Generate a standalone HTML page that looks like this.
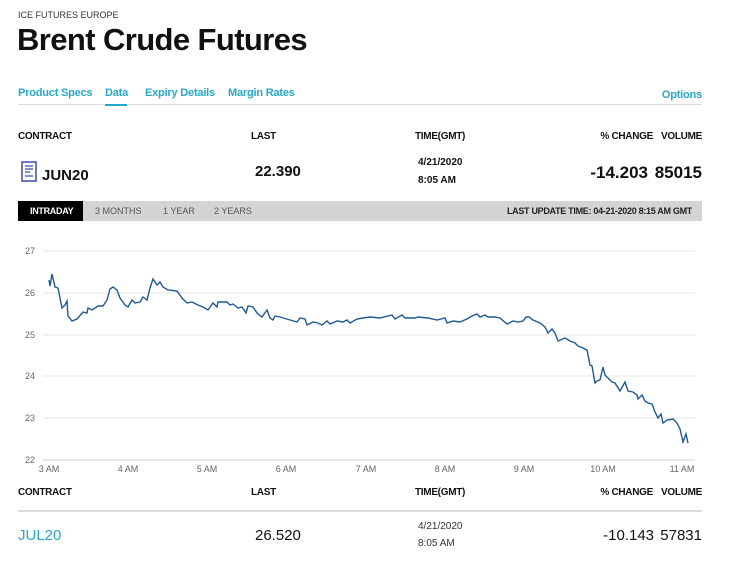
<!DOCTYPE html><html><head><style>
body{margin:0;width:741px;height:573px;background:#fff;font-family:"Liberation Sans",sans-serif;position:relative;overflow:hidden;color:#111}
div{position:absolute;white-space:nowrap}
.h{font-size:10px;font-weight:bold;letter-spacing:-0.3px}
.t{font-size:11px;font-weight:bold;color:#25a9c7;letter-spacing:-0.2px}
.g{font-size:9px;color:#555}
</style></head><body>
<div style="left:18px;top:10px;font-size:9px;color:#333">ICE FUTURES EUROPE</div>
<div style="left:17px;top:22px;font-size:31px;font-weight:bold;letter-spacing:-0.6px">Brent Crude Futures</div>
<div class="t" style="left:18px;top:87px">Product Specs</div>
<div class="t" style="left:105px;top:87px">Data</div>
<div class="t" style="left:145px;top:87px">Expiry Details</div>
<div class="t" style="left:228px;top:87px">Margin Rates</div>
<div class="t" style="right:39px;top:89px">Options</div>
<div style="left:18px;top:104px;width:684px;height:1px;background:#ddd"></div>
<div style="left:105px;top:104px;width:22px;height:2px;background:#25a9c7"></div>
<div class="h" style="left:18px;top:131px">CONTRACT</div>
<div class="h" style="left:251px;top:131px">LAST</div>
<div class="h" style="left:415px;top:131px">TIME(GMT)</div>
<div class="h" style="right:88px;top:131px">% CHANGE</div>
<div class="h" style="right:39px;top:131px">VOLUME</div>
<svg style="position:absolute;left:21px;top:161px" width="16" height="21"><rect x="1" y="1" width="14" height="19" fill="none" stroke="#3a4aa8" stroke-width="1.5"/><path d="M4 5h8M4 8h8M4 11h5M4 15h8" stroke="#3a4aa8" stroke-width="1.2"/></svg>
<div style="left:42px;top:167px;font-size:15px;font-weight:bold">JUN20</div>
<div style="left:255px;top:163px;font-size:15px;font-weight:bold">22.390</div>
<div style="left:418px;top:157px;font-size:10px;font-weight:bold">4/21/2020</div>
<div style="left:418px;top:175px;font-size:10px;font-weight:bold">8:05 AM</div>
<div style="right:93px;top:163px;font-size:17px;font-weight:bold">-14.203</div>
<div style="right:39px;top:163px;font-size:17px;font-weight:bold">85015</div>
<div style="left:18px;top:201px;width:684px;height:20px;background:#d4d4d4"></div>
<div style="left:18px;top:201px;width:65px;height:20px;background:#000"></div>
<div style="left:30px;top:206px;font-size:9px;color:#fff;font-weight:bold;letter-spacing:-0.3px">INTRADAY</div>
<div class="g" style="left:95px;top:206px">3 MONTHS</div>
<div class="g" style="left:163px;top:206px">1 YEAR</div>
<div class="g" style="left:214px;top:206px">2 YEARS</div>
<div style="right:49px;top:206px;font-size:9px;font-weight:bold;color:#222;letter-spacing:-0.3px">LAST UPDATE TIME: 04-21-2020 8:15 AM GMT</div>
<svg style="position:absolute;left:0;top:0" width="741" height="480">
<g stroke="#e6e6e6" stroke-width="1"><line x1="43" x2="695" y1="251" y2="251"/><line x1="43" x2="695" y1="293" y2="293"/><line x1="43" x2="695" y1="335" y2="335"/><line x1="43" x2="695" y1="376" y2="376"/><line x1="43" x2="695" y1="418" y2="418"/></g>
<line x1="43" x2="695" y1="460" y2="460" stroke="#ccc"/>
<g font-size="9" fill="#666" font-family="Liberation Sans"><text x="25" y="254">27</text><text x="25" y="296">26</text><text x="25" y="338">25</text><text x="25" y="379">24</text><text x="25" y="421">23</text><text x="25" y="463">22</text>
<g text-anchor="middle"><text x="49" y="472">3 AM</text><text x="128" y="472">4 AM</text><text x="207" y="472">5 AM</text><text x="286" y="472">6 AM</text><text x="366" y="472">7 AM</text><text x="445" y="472">8 AM</text><text x="524" y="472">9 AM</text><text x="603" y="472">10 AM</text><text x="682" y="472">11 AM</text></g></g>
<polyline fill="none" stroke="#1f5a93" stroke-width="1.4" points="49,280 50,286 52,274 55,287 58,288 62,308 65,305 67,301 68,316 72,321 77,319 83,312 87,313 88,308 92,310 98,306 103,306 107,300 110,289 113,287 117,290 120,298 125,305 128,307 132,300 135,303 140,302 143,297 147,300 150,288 153,279 157,285 160,282 163,287 168,290 177,291 182,298 187,303 192,302 198,305 203,307 208,310 213,303 217,307 218,302 227,302 230,305 233,304 238,308 242,307 246,313 248,306 253,307 257,313 262,317 267,310 270,318 273,320 275,316 280,317 290,320 297,322 300,318 305,319 307,325 313,322 318,323 322,325 327,321 330,324 337,321 343,322 347,320 350,323 357,319 363,318 370,317 380,318 392,315 395,319 402,315 405,318 415,318 418,317 428,318 437,320 445,318 447,323 453,321 460,322 467,319 472,316 477,314 480,317 485,315 488,317 495,317 500,318 507,324 513,321 518,322 523,321 526,317 529,317 533,320 540,323 545,327 548,333 552,329 555,333 558,341 565,338 570,341 575,343 578,346 583,348 587,350 590,365 592,366 595,383 597,381 600,380 603,367 605,375 608,378 612,382 615,383 620,391 625,382 628,391 633,392 637,395 638,399 642,395 645,401 648,403 652,404 655,412 658,418 661,414 663,423 667,420 673,419 677,423 680,429 683,442 686,434 688,443"/>
</svg>
<div class="h" style="left:18px;top:487px">CONTRACT</div>
<div class="h" style="left:251px;top:487px">LAST</div>
<div class="h" style="left:415px;top:487px">TIME(GMT)</div>
<div class="h" style="right:88px;top:487px">% CHANGE</div>
<div class="h" style="right:39px;top:487px">VOLUME</div>
<div style="left:18px;top:510px;width:684px;height:2px;background:#ddd"></div>
<div style="left:18px;top:527px;font-size:15px;color:#25a9c7">JUL20</div>
<div style="left:255px;top:527px;font-size:15px">26.520</div>
<div style="left:418px;top:521px;font-size:10px;color:#333">4/21/2020</div>
<div style="left:418px;top:538px;font-size:10px;color:#333">8:05 AM</div>
<div style="right:87px;top:527px;font-size:15px">-10.143</div>
<div style="right:39px;top:527px;font-size:15px">57831</div>
</body></html>
